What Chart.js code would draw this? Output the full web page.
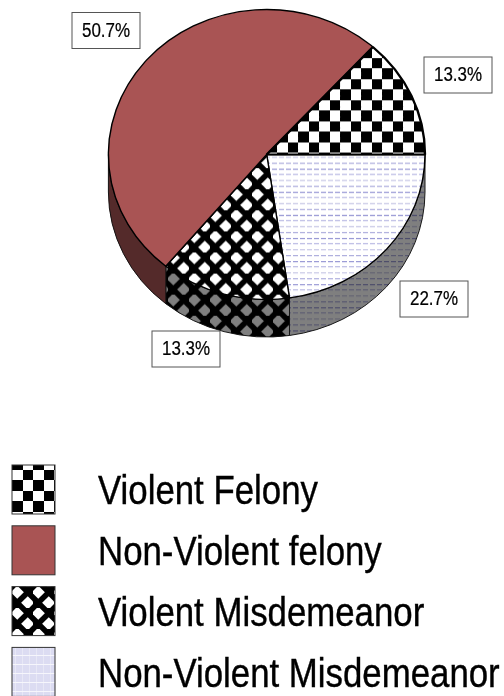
<!DOCTYPE html>
<html>
<head>
<meta charset="utf-8">
<style>
  html, body { margin: 0; padding: 0; background: #fff; overflow: hidden; }
  canvas { display: block; }
</style>
<script src="https://cdn.jsdelivr.net/npm/chart.js@4"></script>
</head>
<body>
<canvas id="crimePie" width="504" height="696"></canvas>
<script>
// Slices run clockwise from 3 o'clock; the checker slice goes last so its heavy border stays on top
const categories = ['Non-Violent Misdemeanor', 'Violent Misdemeanor', 'Non-Violent felony', 'Violent Felony'];
const percentages = [22.7, 13.3, 50.7, 13.3];
const fills = ['stripes', 'lattice', 'red', 'checker'];
// Legend lists the slices in a different order
const legendOrder = [3, 2, 1, 0];
// Left and top of each value label box, same order as the slices
const labelBoxes = [[400, 281], [152, 331], [72, 12.5], [424, 57]];
const borderWidths = [1.4, 1.4, 1.4, 2.4];

const FONT = '"Liberation Sans", Arial, sans-serif';
const SQUASH = 0.87;          // the original text is narrower than plain Arial
const PIE_TOP_Y = 154.5;      // centre of the top face on the page
const PIE_RY = 145;           // vertical radius of the top face
const PIE_DEPTH = 37.5;       // height of the side wall
const RED = '#a95454';

const canvas = document.getElementById('crimePie');
const ctx = canvas.getContext('2d');

function makeTile(w, h, paint) {
    const tile = document.createElement('canvas');
    tile.width = w;
    tile.height = h;
    paint(tile.getContext('2d'));
    return tile;
}

const tiles = {
    checker: makeTile(21, 21, t => {
        t.fillStyle = '#fff';
        t.fillRect(0, 0, 21, 21);
        t.fillStyle = '#000';
        t.fillRect(0, 0, 10, 10);
        t.fillRect(10, 10, 11, 11);
    }),
    lattice: makeTile(21, 21, t => {
        t.fillStyle = '#000';
        t.fillRect(0, 0, 21, 21);
        t.fillStyle = '#fff';
        [[5.25, 5.25], [15.75, 15.75]].forEach(([x, y]) => {
            t.beginPath();
            t.moveTo(x - 6.6, y);
            t.lineTo(x, y - 6.6);
            t.lineTo(x + 6.6, y);
            t.lineTo(x, y + 6.6);
            t.closePath();
            t.fill();
        });
    }),
    stripes: makeTile(28, 23, t => {
        t.fillStyle = '#fff';
        t.fillRect(0, 0, 28, 23);
        [[1, '#cfcfe9'], [7, '#b0b0de'], [13, '#9696d4'], [18, '#c0c0e6']].forEach(([y, c]) => {
            for (let x = 0; x < 28; x += 7) {
                t.fillStyle = c;
                t.fillRect(x, y, 5, 1);
                t.fillStyle = '#ecECf8';
                t.fillRect(x, y + 1, 5, 1);
            }
        });
    }),
    swatch: makeTile(7, 9, t => {
        t.fillStyle = '#dcdcf2';
        t.fillRect(0, 0, 7, 9);
        t.fillStyle = '#e8e8f6';
        t.fillRect(3, 0, 1, 9);
        t.fillStyle = '#f6f6fc';
        t.fillRect(0, 8, 7, 1);
    })
};

function pattern(name, phaseX, phaseY, inverse) {
    const p = ctx.createPattern(tiles[name], 'repeat');
    const m = (inverse || new DOMMatrix()).translate(phaseX, phaseY);
    p.setTransform(m);
    return p;
}

// The chart lays the pie out as a circle; this flattens it onto the page
let squeeze = 1, centreY = 0;
function pieMatrix() {
    return new DOMMatrix().translate(0, PIE_TOP_Y).scale(1, squeeze).translate(0, -centreY);
}

const tiltedPie = {
    id: 'tiltedPie',
    beforeDatasetsDraw(chart) {
        const arcs = chart.getDatasetMeta(0).data;
        const first = arcs[0];
        centreY = first.y;
        squeeze = PIE_RY / first.outerRadius;
        const c = chart.ctx;
        c.save();
        c.transform(...['a', 'b', 'c', 'd', 'e', 'f'].map(k => pieMatrix()[k]));
        const drop = PIE_DEPTH / squeeze;
        // only the front half of the rim can be seen
        arcs.forEach(arc => {
            for (let turn = -1; turn <= 1; turn++) {
                const from = Math.max(arc.startAngle + turn * 2 * Math.PI, 0);
                const to = Math.min(arc.endAngle + turn * 2 * Math.PI, Math.PI);
                if (to <= from) continue;
                c.beginPath();
                c.arc(arc.x, arc.y, arc.outerRadius, from, to);
                c.arc(arc.x, arc.y + drop, arc.outerRadius, to, from, true);
                c.closePath();
                c.fillStyle = arc.options.backgroundColor;
                c.fill();
                c.fillStyle = 'rgba(0,0,0,0.5)';
                c.fill();
                c.lineWidth = 1;
                c.strokeStyle = '#111';
                c.stroke();
            }
        });
    },
    afterDatasetsDraw(chart) {
        chart.ctx.restore();
    },
    afterDraw(chart) {
        const c = chart.ctx;
        // value labels
        percentages.forEach((value, i) => {
            const [x, y] = labelBoxes[i];
            c.fillStyle = '#fff';
            c.fillRect(x, y, 68, 36);
            c.strokeStyle = '#555';
            c.lineWidth = 1;
            c.strokeRect(x, y, 68, 36);
            squashedText(c, value.toFixed(1) + '%', x + 34, y + 24, 19.5, 'center', 0.2);
        });
        // legend
        legendOrder.forEach((slice, row) => {
            const top = 465 + row * 60.8;
            c.fillStyle = legendFills[row];
            c.fillRect(12, top, 43, 49);
            c.strokeStyle = '#333';
            c.lineWidth = 1;
            c.strokeRect(12, top, 43, 49);
            squashedText(c, categories[slice], 98, 504 + row * 61, 40, 'left', 0.4);
        });
    }
};

function squashedText(c, text, x, y, size, align, weight) {
    c.save();
    c.translate(x, y);
    c.scale(SQUASH, 1);
    c.font = size + 'px ' + FONT;
    c.textAlign = align;
    c.fillStyle = '#000';
    c.strokeStyle = '#000';
    c.lineWidth = weight;
    c.fillText(text, 0, 0);
    c.strokeText(text, 0, 0);
    c.restore();
}

const legendFills = [
    pattern('checker', 23, 470),
    RED,
    pattern('lattice', 12, 461),
    pattern('swatch', 12, 647)
];

// Patterns on the pie are filled while the flattening is active, so undo it for them
centreY = 159;
squeeze = PIE_RY / 159;
const unsquash = pieMatrix().inverse();
const sliceFills = fills.map(name => {
    if (name === 'red') return RED;
    if (name === 'checker') return pattern('checker', 288, 143, unsquash);
    if (name === 'lattice') return pattern('lattice', 189, 252.5, unsquash);
    return pattern('stripes', 300, 156, unsquash);
});

new Chart(ctx, {
    type: 'pie',
    data: {
        labels: categories,
        datasets: [{
            data: percentages,
            backgroundColor: sliceFills,
            borderColor: '#000',
            borderWidth: borderWidths,
            clip: false
        }]
    },
    options: {
        responsive: false,
        animation: false,
        rotation: 90,
        layout: { padding: { left: 107.2, right: 77.8, top: 0, bottom: 377 } },
        plugins: {
            legend: { display: false },
            tooltip: { enabled: false }
        }
    },
    plugins: [tiltedPie]
});
</script>
</body>
</html>
